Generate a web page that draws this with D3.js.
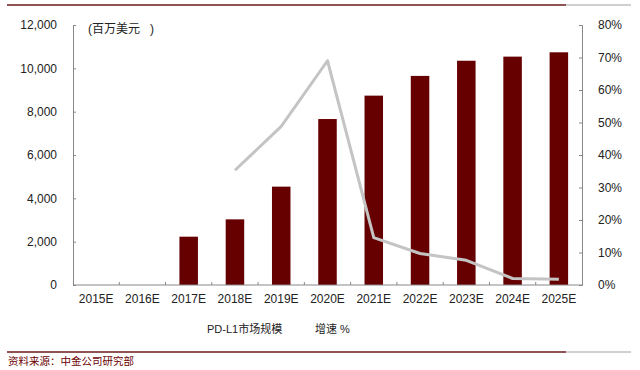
<!DOCTYPE html>
<html>
<head>
<meta charset="utf-8">
<script src="https://cdn.jsdelivr.net/npm/d3@7"></script>
<style>
  body { margin: 0; background: #fff; }
  text { font-family: "Liberation Sans", Arial, "Noto Sans CJK SC", sans-serif; }
</style>
</head>
<body>
<div id="chart"></div>
<script>
const years = ["2015E", "2016E", "2017E", "2018E", "2019E", "2020E", "2021E", "2022E", "2023E", "2024E", "2025E"];
// PD-L1 market size, million USD (null = no bar)
const marketSize = [null, null, 2230, 3030, 4540, 7660, 8740, 9650, 10350, 10540, 10740];
// growth rate, %
const growth = [null, null, null, 35.3, 48.8, 69.0, 14.6, 9.7, 7.6, 2.0, 1.8];
const leftTicks = [0, 2000, 4000, 6000, 8000, 10000, 12000];
const rightTicks = [0, 10, 20, 30, 40, 50, 60, 70, 80];

const width = 640, height = 370;
const margin = {left: 73, right: 58, top: 25, bottom: 85};
const cjk = '"Liberation Sans", "Noto Sans CJK SC", sans-serif';

let svg = d3.select("#chart")
    .append("svg")
    .attr("width", width)
    .attr("height", height);

// top and bottom rules
function rule(y) {
    svg.append("line").attr("x1", 7).attr("x2", 566).attr("y1", y).attr("y2", y)
        .attr("stroke", "#6b1a1a").attr("stroke-width", 1.5);
    svg.append("line").attr("x1", 566).attr("x2", 631).attr("y1", y).attr("y2", y)
        .attr("stroke", "#a0a0a0").attr("stroke-width", 1);
}
rule(5);
rule(352);

let x = d3.scaleBand()
    .domain(years)
    .range([margin.left, width - margin.right])
    .paddingInner(0.6)
    .paddingOuter(0.3);

let y = d3.scaleLinear()
    .domain([0, 12000])
    .range([height - margin.bottom, margin.top]);

let y2 = d3.scaleLinear()
    .domain([0, 80])
    .range([height - margin.bottom, margin.top]);

// bars
svg.append("g")
    .selectAll("rect")
    .data(years.map((d, i) => ({year: d, v: marketSize[i]})).filter(d => d.v != null))
    .enter()
    .append("rect")
    .attr("x", d => x(d.year))
    .attr("y", d => y(d.v))
    .attr("width", x.bandwidth())
    .attr("height", d => y(0) - y(d.v))
    .attr("fill", "#660000");

// growth line
let lineData = years.map((d, i) => ({year: d, v: growth[i]})).filter(d => d.v != null);
svg.append("path")
    .datum(lineData)
    .attr("fill", "none")
    .attr("stroke", "#c4c4c4")
    .attr("stroke-width", 3)
    .attr("stroke-linejoin", "round")
    .attr("d", d3.line()
        .x(d => x(d.year) + x.bandwidth() / 2)
        .y(d => y2(d.v)));

// left axis
let leftAxis = svg.append("g")
    .attr("transform", `translate(${margin.left},0)`)
    .call(d3.axisLeft(y).tickValues(leftTicks).tickFormat(d3.format(",")).tickSizeInner(-3).tickSizeOuter(-3).tickPadding(16));

// right axis
let rightAxis = svg.append("g")
    .attr("transform", `translate(${width - margin.right},0)`)
    .call(d3.axisRight(y2).tickValues(rightTicks).tickFormat(d => d + "%").tickSizeInner(-3).tickSizeOuter(-3).tickPadding(16));

// bottom axis with ticks between categories
let bottom = height - margin.bottom;
let step = x.step();
svg.append("line")
    .attr("x1", margin.left).attr("x2", width - margin.right)
    .attr("y1", bottom).attr("y2", bottom)
    .attr("stroke", "#888");
svg.append("g")
    .selectAll("line")
    .data(years.slice(1))
    .enter()
    .append("line")
    .attr("x1", d => x(d) - step * x.paddingInner() / 2)
    .attr("x2", d => x(d) - step * x.paddingInner() / 2)
    .attr("y1", bottom - 3).attr("y2", bottom)
    .attr("stroke", "#888");
svg.append("g")
    .selectAll("text")
    .data(years)
    .enter()
    .append("text")
    .attr("x", d => x(d) + x.bandwidth() / 2)
    .attr("y", bottom + 18)
    .attr("text-anchor", "middle")
    .style("font-size", "12px")
    .attr("fill", "#222")
    .text(d => d);

[leftAxis, rightAxis].forEach(g => {
    g.selectAll("path, line").attr("stroke", "#888");
    g.selectAll("text").style("font-size", "12px").attr("fill", "#222");
});

// unit label
svg.append("text")
    .attr("x", 88).attr("y", 33)
    .style("font-size", "12px")
    .style("font-family", cjk)
    .style("white-space", "pre")
    .attr("fill", "#222")
    .text("(百万美元   )");

// legend (text only)
svg.append("text")
    .attr("x", 207).attr("y", 333)
    .style("font-size", "11px")
    .style("font-family", cjk)
    .attr("fill", "#222")
    .text("PD-L1市场规模");
svg.append("text")
    .attr("x", 315).attr("y", 333)
    .style("font-size", "11px")
    .style("font-family", cjk)
    .attr("fill", "#222")
    .text("增速 %");

// source
svg.append("text")
    .attr("x", 8).attr("y", 365)
    .style("font-size", "10.5px")
    .style("font-family", cjk)
    .attr("fill", "#6b0000")
    .text("资料来源：中金公司研究部");
</script>
</body>
</html>
